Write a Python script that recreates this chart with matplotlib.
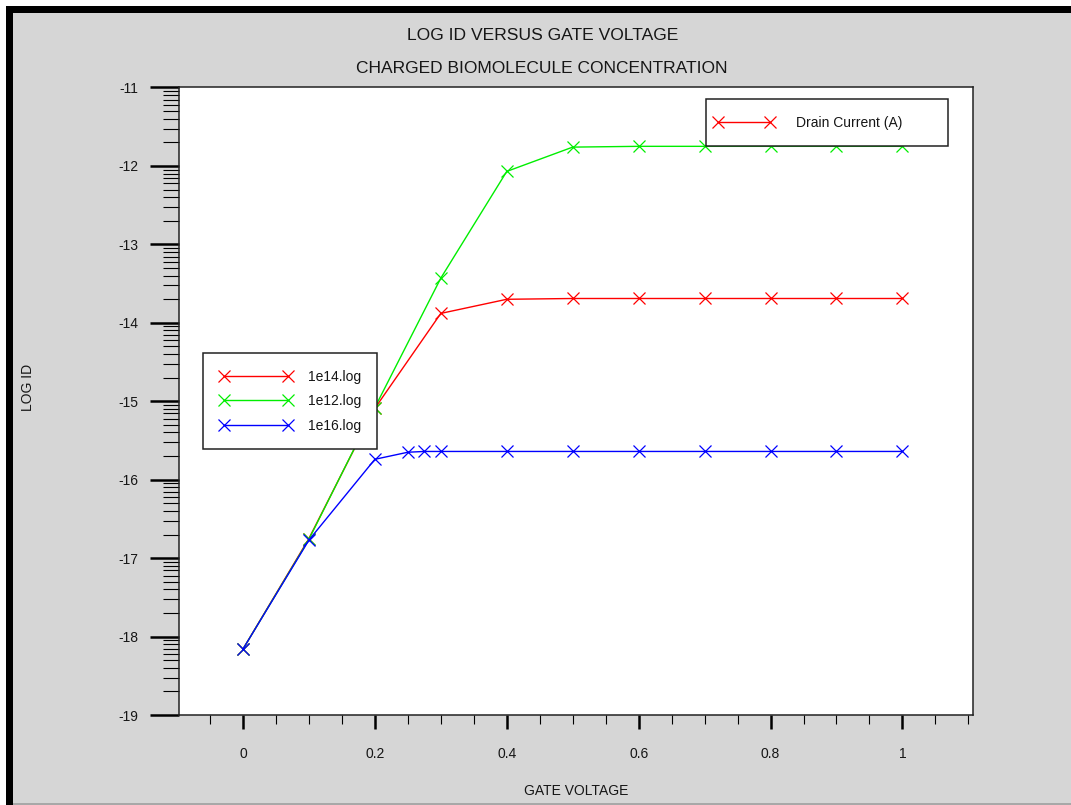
import matplotlib
matplotlib.use("Agg")
import matplotlib.pyplot as plt
from matplotlib.lines import Line2D
from matplotlib.patches import Rectangle
import numpy as np

# ---------------- data ----------------
vg = [0.0, 0.1, 0.2, 0.3, 0.4, 0.5, 0.6, 0.7, 0.8, 0.9, 1.0]
log_id_1e14 = [-18.16, -16.75, -15.09, -13.88, -13.70, -13.69, -13.69, -13.69, -13.69, -13.69, -13.69]
log_id_1e12 = [-18.16, -16.76, -15.08, -13.43, -12.07, -11.76, -11.75, -11.75, -11.75, -11.75, -11.75]
vg_1e16 = [0.0, 0.1, 0.2, 0.25, 0.275, 0.3, 0.4, 0.5, 0.6, 0.7, 0.8, 0.9, 1.0]
log_id_1e16 = [-18.16, -16.77, -15.74, -15.65, -15.64, -15.64, -15.64, -15.64, -15.64, -15.64, -15.64, -15.64, -15.64]

series_labels = ["1e14.log", "1e12.log", "1e16.log"]
series_colors = ["#ff0000", "#00ee00", "#0000ff"]

x_ticks = [0, 0.2, 0.4, 0.6, 0.8, 1.0]
x_tick_labels = ["0", "0.2", "0.4", "0.6", "0.8", "1"]
y_ticks = [-19, -18, -17, -16, -15, -14, -13, -12, -11]

title_lines = ["LOG ID VERSUS GATE VOLTAGE", "CHARGED BIOMOLECULE CONCENTRATION"]
x_label = "GATE VOLTAGE"
y_label = "LOG ID"
quantity_label = "Drain Current (A)"

# ---------------- figure ----------------
W, H = 1071, 805
plt.rcParams["font.family"] = ["Liberation Sans", "DejaVu Sans"]
txt_color = "#161616"
bg = "#d6d6d6"

fig = plt.figure(figsize=(W / 100, H / 100), dpi=100, facecolor=bg)

def fx(px):
    return px / W

def fy(py):
    return 1 - py / H

# window frame decorations
fig.add_artist(Rectangle((0, fy(6.3)), 1, 1 - fy(6.3), transform=fig.transFigure, facecolor="white", edgecolor="none"))
fig.add_artist(Rectangle((0, 0), fx(6.0), 1, transform=fig.transFigure, facecolor="white", edgecolor="none"))
fig.add_artist(Rectangle((fx(6.0), fy(12.7)), 1, fy(6.3) - fy(12.7), transform=fig.transFigure, facecolor="black", edgecolor="none"))
fig.add_artist(Rectangle((fx(6.0), 0), fx(12.7) - fx(6.0), fy(6.3), transform=fig.transFigure, facecolor="black", edgecolor="none"))
fig.add_artist(Rectangle((fx(12.7), 0), 1, fy(803), transform=fig.transFigure, facecolor="#a8a8a8", edgecolor="none"))

ax_l, ax_r, ax_t, ax_b = 179, 973, 87.5, 715
ax = fig.add_axes([fx(ax_l), fy(ax_b), fx(ax_r - ax_l), fy(ax_t) - fy(ax_b)])
ax.set_facecolor("white")

lines = []
for xs, ys, lab, col in [(vg, log_id_1e14, series_labels[0], series_colors[0]),
                         (vg, log_id_1e12, series_labels[1], series_colors[1]),
                         (vg_1e16, log_id_1e16, series_labels[2], series_colors[2])]:
    ln, = ax.plot(xs, ys, color=col, lw=1.0, marker="x", ms=8, mew=0.9, label=lab)
    lines.append(ln)

ax.set_xlim(-0.097, 1.107)
ax.set_ylim(-19, -11)

ax.set_xticks(x_ticks)
ax.set_xticklabels(x_tick_labels)
ax.set_xticks(np.arange(-0.05, 1.101, 0.05), minor=True)
ax.set_yticks(y_ticks)
ax.set_yticklabels([str(v) for v in y_ticks])
minor_y = [d + np.log10(k) for d in y_ticks[:-1] for k in range(2, 10)]
ax.set_yticks(minor_y, minor=True)

ax.tick_params(axis="x", which="major", direction="out", length=10, width=1.8, pad=13, labelsize=10, labelcolor=txt_color)
ax.tick_params(axis="x", which="minor", direction="out", length=6.5, width=0.8)
ax.tick_params(axis="y", which="major", direction="out", length=21, width=1.8, pad=8.5, labelsize=10, labelcolor=txt_color)
ax.tick_params(axis="y", which="minor", direction="out", length=11.5, width=0.8)
ax.tick_params(right=False, top=False, which="both")
for sp in ax.spines.values():
    sp.set_linewidth(1.1)
    sp.set_color("#222222")

ax.set_xlabel(x_label, fontsize=10, color=txt_color, va="center")
ax.xaxis.set_label_coords(0.5, (ax_b - 791) / (ax_b - ax_t))
ax.set_ylabel(y_label, fontsize=10, color=txt_color, va="center")
ax.yaxis.set_label_coords((28.5 - ax_l) / (ax_r - ax_l), (ax_b - 387) / (ax_b - ax_t))

fig.text(fx(543), fy(35), title_lines[0], ha="center", va="center", fontsize=12.6, color=txt_color)
fig.text(fx(542), fy(68.3), title_lines[1], ha="center", va="center", fontsize=12.5, color=txt_color)

# ---------------- legends ----------------
def to_axes(px, py):
    return ((px - ax_l) / (ax_r - ax_l), (ax_b - py) / (ax_b - ax_t))

def legend_box(px0, py0, px1, py1):
    a0, b0 = to_axes(px0, py1)
    a1, b1 = to_axes(px1, py0)
    ax.add_patch(Rectangle((a0, b0), a1 - a0, b1 - b0, transform=ax.transAxes,
                           facecolor="white", edgecolor="#222222", lw=1.1, zorder=4.9))
    return a0, b0, a1 - a0, b1 - b0

bb1 = legend_box(203.3, 353.3, 376.7, 449)
leg1 = ax.legend(handles=lines, loc="center left", bbox_to_anchor=bb1, mode="expand",
                 frameon=False, fontsize=10, numpoints=2, handlelength=5.18,
                 handletextpad=1.14, borderpad=1.19, labelspacing=0.75, borderaxespad=0)
for t in leg1.get_texts():
    t.set_color(txt_color)
ax.add_artist(leg1)

bb2 = legend_box(705.7, 99.3, 948.3, 145.7)
proxy = Line2D([], [], color=series_colors[0], lw=1.0, marker="x", ms=9, mew=0.9)
leg2 = ax.legend(handles=[proxy], labels=[quantity_label], loc="center left",
                 bbox_to_anchor=bb2, mode="expand", frameon=False, fontsize=10,
                 numpoints=2, handlelength=4.35, handletextpad=1.57, borderpad=0.58,
                 borderaxespad=0)
for t in leg2.get_texts():
    t.set_color(txt_color)

fig.savefig("out.png", dpi=100, facecolor=bg)
